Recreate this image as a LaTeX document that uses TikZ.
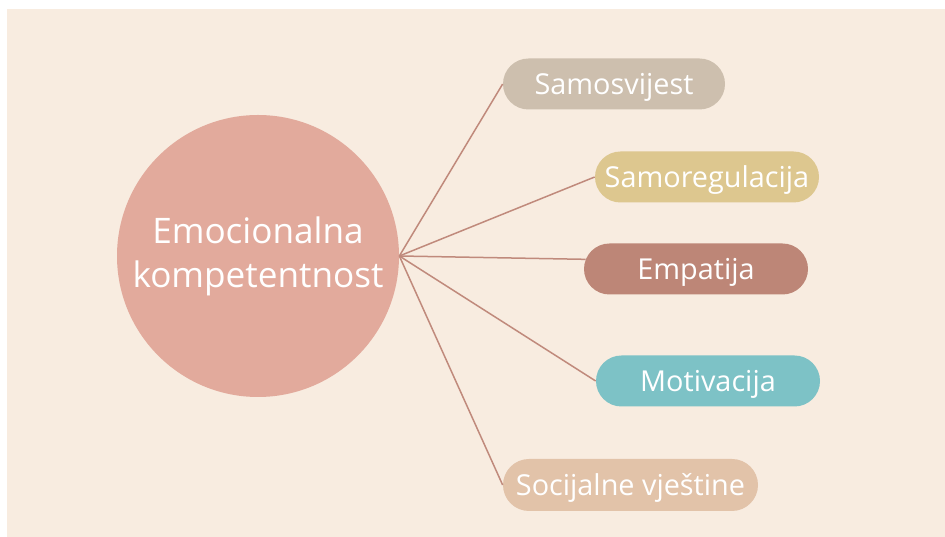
\documentclass[tikz,border=0pt]{standalone}
\usepackage{fontspec}
\setmainfont{Open Sans}
\usetikzlibrary{shapes.misc}

\definecolor{bgbeige}{HTML}{F8ECE0}
\definecolor{hubpink}{HTML}{E2AA9C}
\definecolor{linkbrown}{HTML}{C08A7C}
\definecolor{boxtaupe}{HTML}{CDBFAE}
\definecolor{boxsand}{HTML}{DDC78F}
\definecolor{boxclay}{HTML}{BD8677}
\definecolor{boxteal}{HTML}{7DC2C6}
\definecolor{boxpeach}{HTML}{E2C3A9}

\begin{document}
\begin{tikzpicture}[
			pill/.style={rounded rectangle, minimum width=4.48cm, minimum height=1.02cm, inner sep=0pt, text height=11.4pt, text depth=0pt, text=white, font=\fontsize{16.4}{19}\selectfont},
			link/.style={draw=linkbrown, line width=0.03cm}
		]

		\useasboundingbox (0,0) rectangle (18.9,10.74);
		\fill[white] (0,0) rectangle (18.9,10.74);
		\fill[bgbeige] (0.14,0) rectangle (18.9,10.56);

		\node[circle, fill=hubpink, minimum size=5.64cm, align=center, text=white, font=\fontsize{20}{25}\selectfont] (hub) at (5.16,5.62) {Emocionalna\\kompetentnost};

		\node[pill, fill=boxtaupe, minimum width=4.44cm] (samosvijest) at (12.28,9.06) {Samosvijest};
		\node[pill, fill=boxsand] (samoregulacija) at (14.14,7.20) {Samoregulacija};
		\node[pill, fill=boxclay] (empatija) at (13.92,5.36) {Empatija};
		\node[pill, fill=boxteal] (motivacija) at (14.16,3.12) {Motivacija};
		\node[pill, fill=boxpeach, minimum width=5.1cm, minimum height=1.04cm] (vjestine) at (12.61,1.04) {Socijalne vještine};

		\draw[link] (hub.east) -- (samosvijest.west);
		\draw[link] (hub.east) -- (samoregulacija.west);
		\draw[link] (hub.east) -- (empatija.175);
		\draw[link] (hub.east) -- (motivacija.west);
		\draw[link] (hub.east) -- (vjestine.west);
	\end{tikzpicture}
\end{document}
